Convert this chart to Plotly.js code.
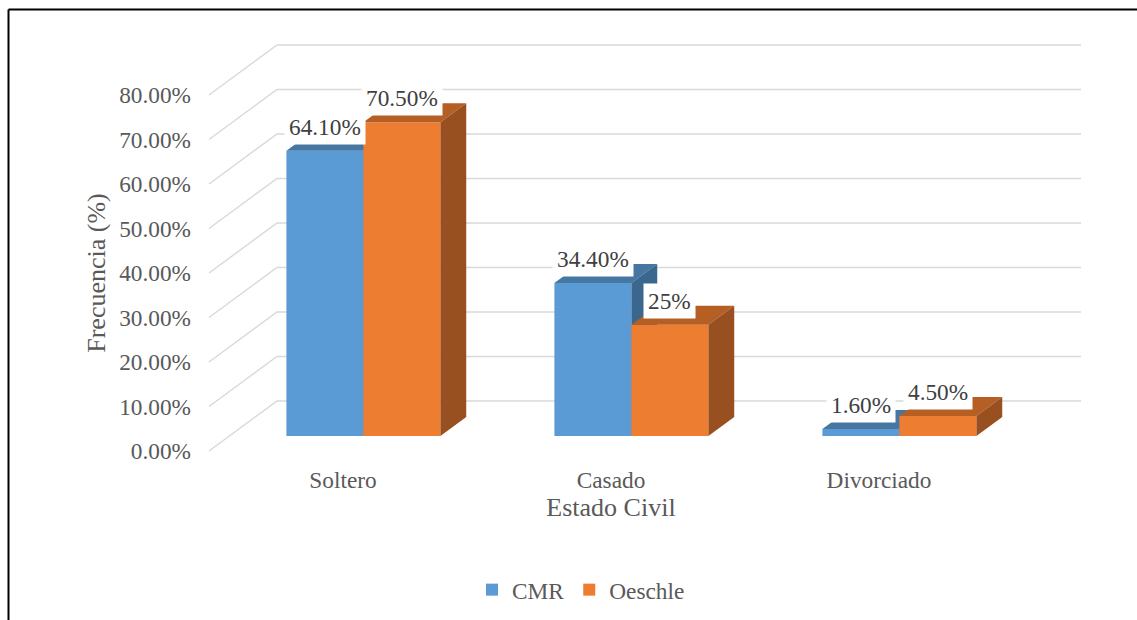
<!DOCTYPE html>
<html>
<head>
<meta charset="utf-8">
<script src="https://cdn.plot.ly/plotly-3.0.1.min.js"></script>
<style>html,body{margin:0;padding:0;background:#fff}#chart{width:1137px;height:620px}</style>
</head>
<body>
<div id="chart"></div>
<script>
// ---- data ----
const categories = ['Soltero', 'Casado', 'Divorciado'];
const seriesNames = ['CMR', 'Oeschle'];
const cmrValues = [64.1, 34.4, 1.6];
const oeschleValues = [70.5, 25, 4.5];
const cmrLabels = ['64.10%', '34.40%', '1.60%'];
const oeschleLabels = ['70.50%', '25%', '4.50%'];
const yTicks = [0, 10, 20, 30, 40, 50, 60, 70, 80];
const yTickText = ['0.00%', '10.00%', '20.00%', '30.00%', '40.00%', '50.00%', '60.00%', '70.00%', '80.00%'];

// ---- geometry (oblique 3D look) ----
const W = 1137, H = 620;
const SX = 268, SY = 4.45;          // px per category / px per percent
const WALL_LEFT_PX = 209, FLOOR_PX = 451;
const X0 = WALL_LEFT_PX + 0.5 * SX; // px of category 0 at front plane
const DEPTH_DX = 68 / SX, DEPTH_DY = 50 / SY;
const BAR_FRONT = 0.3, BAR_BACK = 0.68;
const BAR_W = 77 / SX;
const fdx = BAR_FRONT * DEPTH_DX, fdy = BAR_FRONT * DEPTH_DY;
const bdx = (BAR_BACK - BAR_FRONT) * DEPTH_DX, bdy = (BAR_BACK - BAR_FRONT) * DEPTH_DY;

function xAx(p0, p1) { return {domain: [p0 / W, p1 / W], range: [(p0 - X0) / SX, (p1 - X0) / SX]}; }
function yAx(top, bot) { return {domain: [(H - bot) / H, (H - top) / H], range: [(FLOOR_PX - bot) / SY, (FLOOR_PX - top) / SY]}; }

const colors = {
  CMR: {front: '#5B9BD5', top: '#4676A2', side: '#3B668D'},
  Oeschle: {front: '#ED7D31', top: '#B65F25', side: '#995020'}
};
const serif = 'Liberation Serif, Times New Roman, serif';
const tickFont = {family: serif, size: 23.3, color: '#595959'};
const titleFont = {family: serif, size: 26, color: '#595959'};
const labelFont = {family: serif, size: 23.3, color: '#404040'};

// gridlines: side wall diagonals + back wall horizontals
const wallLeft = -0.5, wallRight = categories.length - 0.5;
const gx = [], gy = [];
yTicks.forEach(t => {
  gx.push(wallLeft, wallLeft + DEPTH_DX, wallRight + DEPTH_DX, null);
  gy.push(t, t + DEPTH_DY, t + DEPTH_DY, null);
});

function faces(values, offset) {
  const top = {x: [], y: []}, side = {x: [], y: []};
  values.forEach((v, i) => {
    const xl = i + offset + fdx, xr = xl + BAR_W;
    const y0 = fdy, y1 = v + fdy;
    top.x.push(xl, xr, xr + bdx, xl + bdx, xl, null);
    top.y.push(y1, y1, y1 + bdy, y1 + bdy, y1, null);
    side.x.push(xr, xr + bdx, xr + bdx, xr, xr, null);
    side.y.push(y0, y0 + bdy, y1 + bdy, y1, y0, null);
  });
  return {top, side};
}

const idx = categories.map((c, i) => i);
const series = [
  {name: seriesNames[0], values: cmrValues, labels: cmrLabels, offset: -BAR_W, xa: 'x2', ya: 'y2'},
  {name: seriesNames[1], values: oeschleValues, labels: oeschleLabels, offset: 0, xa: 'x3', ya: 'y3'}
];

const traces = [{
  type: 'scatter', mode: 'lines', x: gx, y: gy, xaxis: 'x', yaxis: 'y',
  line: {color: '#D9D9D9', width: 1.5}, hoverinfo: 'skip', showlegend: false
}];
const annotations = [];
series.forEach(s => {
  const c = colors[s.name];
  const f = faces(s.values, s.offset);
  traces.push({
    type: 'bar', name: s.name, x: idx, y: s.values, base: fdy, width: BAR_W, offset: s.offset + fdx,
    xaxis: s.xa, yaxis: s.ya, marker: {color: c.front, line: {width: 0}}, hovertext: categories
  });
  traces.push({type: 'scatter', mode: 'lines', x: f.top.x, y: f.top.y, fill: 'toself', fillcolor: c.top,
    line: {width: 0, color: c.top}, xaxis: s.xa, yaxis: s.ya, hoverinfo: 'skip', showlegend: false});
  traces.push({type: 'scatter', mode: 'lines', x: f.side.x, y: f.side.y, fill: 'toself', fillcolor: c.side,
    line: {width: 0, color: c.side}, xaxis: s.xa, yaxis: s.ya, hoverinfo: 'skip', showlegend: false});
  s.values.forEach((v, i) => {
    annotations.push({
      xref: 'x2', yref: 'y2', x: i + s.offset + fdx + BAR_W / 2, y: v + fdy, yshift: 24,
      text: s.labels[i], showarrow: false, bgcolor: '#FFFFFF', borderpad: 4, font: labelFont
    });
  });
});

const frontX = xAx(WALL_LEFT_PX, WALL_LEFT_PX + categories.length * SX);
const frontY = yAx(FLOOR_PX - yTicks[yTicks.length - 1] * SY, FLOOR_PX);

const layout = {
  width: W, height: H,
  margin: {l: 0, r: 0, t: 0, b: 0, pad: 0},
  paper_bgcolor: '#FFFFFF', plot_bgcolor: 'rgba(0,0,0,0)',
  barmode: 'overlay',
  showlegend: true,
  legend: {orientation: 'h', x: 472 / W, xanchor: 'left', y: (H - 590) / H, yanchor: 'middle',
    font: tickFont, bgcolor: 'rgba(0,0,0,0)'},
  xaxis: Object.assign(xAx(200, 1090), {visible: false, anchor: 'y', fixedrange: true}),
  yaxis: Object.assign(yAx(38, 458), {visible: false, anchor: 'x', fixedrange: true}),
  xaxis2: Object.assign({}, frontX, {
    anchor: 'y2', tickmode: 'array', tickvals: idx, ticktext: categories,
    showgrid: false, zeroline: false, showline: false, ticks: '', ticklabelstandoff: 13,
    tickfont: tickFont, fixedrange: true,
    title: {text: 'Estado Civil', font: titleFont, standoff: 2}
  }),
  yaxis2: Object.assign({}, frontY, {
    anchor: 'x2', tickmode: 'array', tickvals: yTicks, ticktext: yTickText,
    showgrid: false, zeroline: false, showline: false, ticks: '', ticklabelstandoff: 17,
    tickfont: tickFont, fixedrange: true,
    title: {text: 'Frecuencia (%)', font: titleFont, standoff: 6}
  }),
  xaxis3: {overlaying: 'x2', anchor: 'y3', range: frontX.range, visible: false, fixedrange: true},
  yaxis3: {overlaying: 'y2', anchor: 'x3', range: frontY.range, visible: false, fixedrange: true},
  annotations: annotations,
  shapes: [
    {type: 'line', xref: 'paper', yref: 'paper', x0: 8.5 / W, x1: 1.01, y0: 1 - 9.5 / H, y1: 1 - 9.5 / H, line: {color: '#000000', width: 2}},
    {type: 'line', xref: 'paper', yref: 'paper', x0: 8.5 / W, x1: 8.5 / W, y0: -0.01, y1: 1 - 9.5 / H, line: {color: '#000000', width: 2}}
  ]
};

Plotly.newPlot('chart', traces, layout, {displayModeBar: false, staticPlot: true});
</script>
</body>
</html>
